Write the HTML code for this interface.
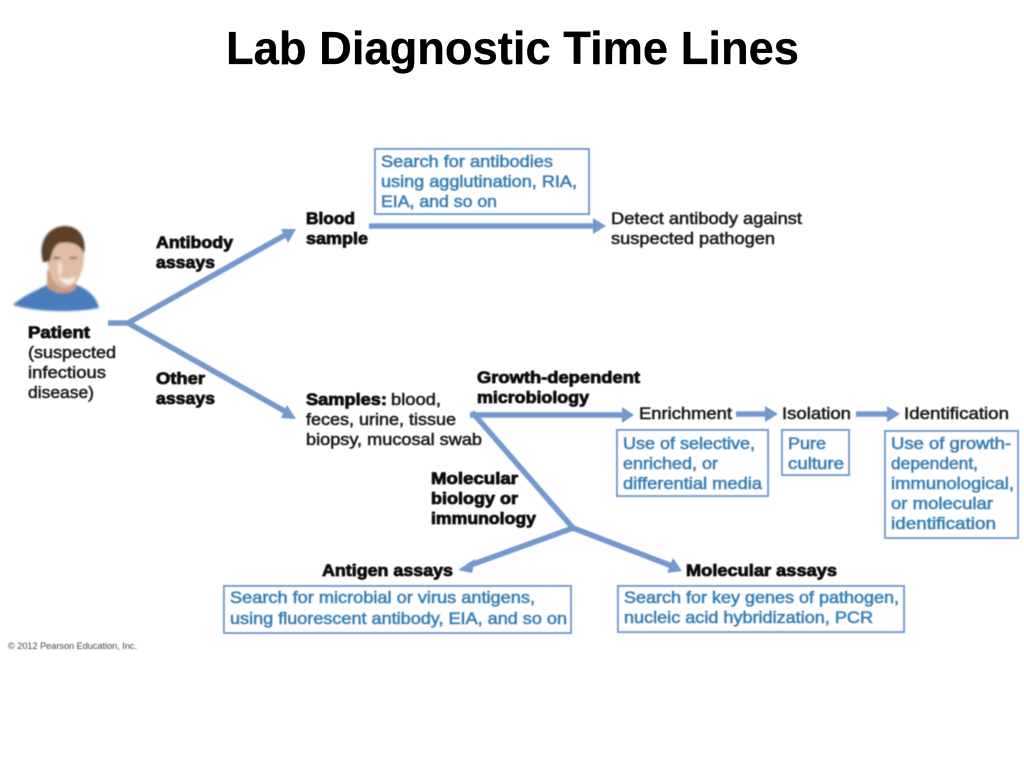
<!DOCTYPE html>
<html><head><meta charset="utf-8"><style>
html,body{margin:0;padding:0;background:#fff}
svg{display:block}
text{font-family:"Liberation Sans",sans-serif;font-size:16.5px;fill:#1c1c1c;stroke:#1c1c1c;stroke-width:.55px}
.b{font-weight:bold;fill:#0c0c0c;stroke:#0c0c0c;stroke-width:.8px}
.c{fill:#2f86bd;stroke:#2f86bd;stroke-width:.85px;font-weight:normal}
.box{fill:#fff;stroke:#6f9bcd;stroke-width:2}
.l{stroke:#7399cf;fill:none;stroke-width:5.5}
.h{fill:#7399cf}
</style></head><body>
<svg width="1024" height="768" viewBox="0 0 1024 768" xmlns="http://www.w3.org/2000/svg">
<defs><filter id="s" x="-5%" y="-5%" width="110%" height="110%"><feGaussianBlur stdDeviation="0.5"/></filter>
<filter id="p" x="-20%" y="-20%" width="140%" height="140%"><feGaussianBlur stdDeviation="1"/></filter></defs>
<text x="226" y="64" textLength="573" lengthAdjust="spacingAndGlyphs" style="font-size:46px;font-weight:bold;fill:#000;stroke:#000;stroke-width:.3px">Lab Diagnostic Time Lines</text>
<g filter="url(#p)">
<path d="M13 305C22 296 38 290 48 284L74 284C86 288 96 295 99 308C75 313 35 312 13 305Z" fill="#4a7dbb"/>
<path d="M47 270L47 287C55 295 70 295 76 288L76 268Z" fill="#c99c82"/>
<path d="M47 258C46 246 52 240 62 239C76 238 84 244 84 256C84 270 78 287 66 288C54 288 48 274 47 258Z" fill="#e2bca4"/>
<path d="M43 262C37 240 50 226 65 226C78 226 87 236 84 254C81 246 74 241 60 243C54 245 52 252 50 261L46 262Z" fill="#5c4029"/>
<path d="M53 258h7M70 258h7" stroke="#5a4032" stroke-width="1.5"/>
<path d="M58 275C63 280 72 280 77 274L73 283C68 286 62 285 58 275Z" fill="#f6ebe3"/>
<ellipse cx="60" cy="268" rx="2.5" ry="7" fill="#f1dccf"/>
</g>
<g filter="url(#s)">
<rect class="box" x="375" y="149" width="214" height="65"/>
<rect class="box" x="617" y="430" width="151" height="66"/>
<rect class="box" x="782" y="430" width="67" height="45"/>
<rect class="box" x="885" y="431" width="133" height="107"/>
<rect class="box" x="224" y="586" width="347" height="47"/>
<rect class="box" x="618" y="586" width="286" height="46"/>

<path class="l" d="M108 323H128L287 234"/>
<path class="h" d="M296 229L281 229L288 243Z"/>
<path class="l" d="M128 323L288 413"/>
<path class="h" d="M296 419L287 405L281 418Z"/>
<path class="l" d="M369 226H595"/>
<path class="h" d="M606 226L593 218V234Z"/>
<path class="l" d="M470 415H625"/>
<path class="h" d="M634 415L622 407V423Z"/>
<path class="l" d="M472 412L573 528L468 566"/>
<path class="h" d="M458 570L475 559L472 573Z"/>
<path class="l" d="M573 528L672 566"/>
<path class="h" d="M682 571L673 558L667 573Z"/>
<path class="l" d="M736 414H768"/>
<path class="h" d="M778 414L765 406V422Z"/>
<path class="l" d="M856 414H890"/>
<path class="h" d="M900 414L887 406V422Z"/>

<text class="c" x="381" y="167" textLength="172" lengthAdjust="spacingAndGlyphs">Search for antibodies</text>
<text class="c" x="381" y="187" textLength="196" lengthAdjust="spacingAndGlyphs">using agglutination, RIA,</text>
<text class="c" x="381" y="207" textLength="116" lengthAdjust="spacingAndGlyphs">EIA, and so on</text>

<text class="b" x="306" y="224" textLength="49" lengthAdjust="spacingAndGlyphs">Blood</text>
<text class="b" x="306" y="244" textLength="62" lengthAdjust="spacingAndGlyphs">sample</text>
<text class="b" x="156" y="248" textLength="77" lengthAdjust="spacingAndGlyphs">Antibody</text>
<text class="b" x="156" y="268" textLength="59" lengthAdjust="spacingAndGlyphs">assays</text>
<text class="b" x="156" y="384" textLength="49" lengthAdjust="spacingAndGlyphs">Other</text>
<text class="b" x="156" y="404" textLength="59" lengthAdjust="spacingAndGlyphs">assays</text>

<text x="611" y="224" textLength="191" lengthAdjust="spacingAndGlyphs">Detect antibody against</text>
<text x="611" y="244" textLength="164" lengthAdjust="spacingAndGlyphs">suspected pathogen</text>

<text class="b" x="28" y="338" textLength="62" lengthAdjust="spacingAndGlyphs">Patient</text>
<text x="28" y="358" textLength="88" lengthAdjust="spacingAndGlyphs">(suspected</text>
<text x="28" y="378" textLength="78" lengthAdjust="spacingAndGlyphs">infectious</text>
<text x="28" y="398" textLength="66" lengthAdjust="spacingAndGlyphs">disease)</text>

<text class="b" x="306" y="405" textLength="81" lengthAdjust="spacingAndGlyphs">Samples:</text>
<text x="391" y="405" textLength="50" lengthAdjust="spacingAndGlyphs">blood,</text>
<text x="306" y="425" textLength="150" lengthAdjust="spacingAndGlyphs">feces, urine, tissue</text>
<text x="306" y="445" textLength="176" lengthAdjust="spacingAndGlyphs">biopsy, mucosal swab</text>

<text class="b" x="477" y="383" textLength="163" lengthAdjust="spacingAndGlyphs">Growth-dependent</text>
<text class="b" x="477" y="403" textLength="112" lengthAdjust="spacingAndGlyphs">microbiology</text>

<text x="639" y="419" textLength="93" lengthAdjust="spacingAndGlyphs">Enrichment</text>
<text x="782" y="419" textLength="69" lengthAdjust="spacingAndGlyphs">Isolation</text>
<text x="904" y="419" textLength="105" lengthAdjust="spacingAndGlyphs">Identification</text>

<text class="c" x="623" y="449" textLength="132" lengthAdjust="spacingAndGlyphs">Use of selective,</text>
<text class="c" x="623" y="469" textLength="95" lengthAdjust="spacingAndGlyphs">enriched, or</text>
<text class="c" x="623" y="489" textLength="139" lengthAdjust="spacingAndGlyphs">differential media</text>

<text class="c" x="788" y="449" textLength="38" lengthAdjust="spacingAndGlyphs">Pure</text>
<text class="c" x="788" y="469" textLength="56" lengthAdjust="spacingAndGlyphs">culture</text>

<text class="c" x="891" y="449" textLength="120" lengthAdjust="spacingAndGlyphs">Use of growth-</text>
<text class="c" x="891" y="469" textLength="87" lengthAdjust="spacingAndGlyphs">dependent,</text>
<text class="c" x="891" y="489" textLength="123" lengthAdjust="spacingAndGlyphs">immunological,</text>
<text class="c" x="891" y="509" textLength="102" lengthAdjust="spacingAndGlyphs">or molecular</text>
<text class="c" x="891" y="529" textLength="105" lengthAdjust="spacingAndGlyphs">identification</text>

<text class="b" x="431" y="484" textLength="87" lengthAdjust="spacingAndGlyphs">Molecular</text>
<text class="b" x="431" y="504" textLength="87" lengthAdjust="spacingAndGlyphs">biology or</text>
<text class="b" x="431" y="524" textLength="105" lengthAdjust="spacingAndGlyphs">immunology</text>

<text class="b" x="322" y="576" textLength="131" lengthAdjust="spacingAndGlyphs">Antigen assays</text>
<text class="b" x="686" y="576" textLength="151" lengthAdjust="spacingAndGlyphs">Molecular assays</text>

<text class="c" x="230" y="603" textLength="305" lengthAdjust="spacingAndGlyphs">Search for microbial or virus antigens,</text>
<text class="c" x="230" y="624" textLength="337" lengthAdjust="spacingAndGlyphs">using fluorescent antibody, EIA, and so on</text>
<text class="c" x="624" y="603" textLength="275" lengthAdjust="spacingAndGlyphs">Search for key genes of pathogen,</text>
<text class="c" x="624" y="623" textLength="249" lengthAdjust="spacingAndGlyphs">nucleic acid hybridization, PCR</text>

<text x="8" y="649" textLength="129" lengthAdjust="spacingAndGlyphs" style="font-size:9.5px;stroke:none;fill:#444">© 2012 Pearson Education, Inc.</text>
</g>
</svg>
</body></html>
